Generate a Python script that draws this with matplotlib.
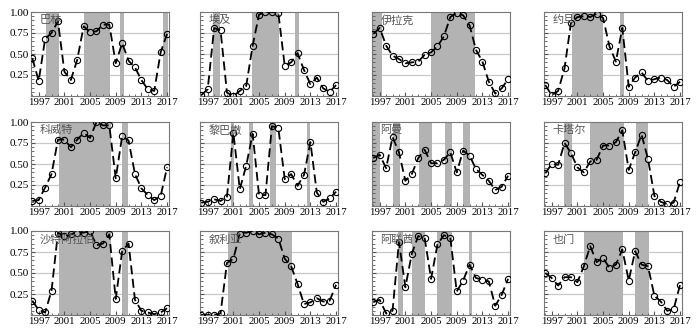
import numpy as np
import matplotlib
matplotlib.use('Agg')
import matplotlib.pyplot as plt
from matplotlib.ticker import MultipleLocator

years = list(range(1996, 2018))

paises = ['巴林', '埃及', '伊拉克', '约旦',
          '科威特', '黎巴嫩', '阿曼', '卡塔尔',
          '沙特阿拉伯', '叙利亚', '阿联酋', '也门']

bahrein = [0.45, 0.18, 0.68, 0.75, 0.89, 0.29, 0.19, 0.43, 0.83, 0.76, 0.77,
           0.85, 0.85, 0.39, 0.63, 0.42, 0.34, 0.19, 0.08, 0.06, 0.52, 0.74]
egipto = [0.01, 0.08, 0.81, 0.78, 0.04, 0.00, 0.06, 0.12, 0.60, 0.97, 1.00,
          1.00, 0.99, 0.36, 0.40, 0.51, 0.31, 0.14, 0.22, 0.09, 0.05, 0.13]
irak = [0.74, 0.81, 0.60, 0.48, 0.44, 0.39, 0.40, 0.41, 0.49, 0.52, 0.59,
        0.71, 0.94, 0.99, 0.96, 0.84, 0.55, 0.41, 0.17, 0.03, 0.09, 0.20]
jordania = [0.13, 0.01, 0.06, 0.33, 0.87, 0.94, 0.95, 0.94, 0.98, 0.93, 0.59,
            0.41, 0.81, 0.11, 0.22, 0.28, 0.18, 0.20, 0.22, 0.19, 0.11, 0.17]
kuwait = [0.06, 0.07, 0.22, 0.38, 0.79, 0.79, 0.70, 0.79, 0.87, 0.81, 1.00,
          0.96, 0.96, 0.33, 0.83, 0.78, 0.38, 0.21, 0.13, 0.07, 0.12, 0.46]
libano = [0.04, 0.05, 0.08, 0.06, 0.11, 0.87, 0.20, 0.48, 0.86, 0.13, 0.13,
          0.95, 0.93, 0.32, 0.38, 0.24, 0.37, 0.76, 0.16, 0.05, 0.09, 0.17]
oman = [0.57, 0.61, 0.45, 0.82, 0.64, 0.30, 0.38, 0.57, 0.67, 0.51, 0.51,
        0.55, 0.64, 0.40, 0.66, 0.60, 0.44, 0.37, 0.30, 0.19, 0.23, 0.36]
qatar = [0.39, 0.50, 0.49, 0.75, 0.63, 0.46, 0.40, 0.53, 0.55, 0.72, 0.72,
         0.76, 0.90, 0.43, 0.64, 0.85, 0.56, 0.12, 0.05, 0.02, 0.04, 0.29]
saudi = [0.17, 0.06, 0.03, 0.29, 0.98, 0.94, 0.96, 0.98, 0.98, 1.00, 0.83,
         0.85, 0.96, 0.19, 0.76, 0.85, 0.18, 0.05, 0.03, 0.01, 0.03, 0.08]
siria = [0.00, 0.00, 0.00, 0.02, 0.62, 0.67, 0.97, 0.98, 1.00, 0.96, 0.98,
         0.96, 0.91, 0.67, 0.58, 0.37, 0.13, 0.15, 0.20, 0.16, 0.17, 0.36]
emiratos = [0.16, 0.18, 0.02, 0.05, 0.87, 0.33, 0.73, 0.94, 0.92, 0.43, 0.84,
            0.95, 0.92, 0.28, 0.41, 0.60, 0.44, 0.42, 0.40, 0.11, 0.24, 0.43]
yemen = [0.50, 0.44, 0.35, 0.45, 0.45, 0.39, 0.58, 0.82, 0.63, 0.68, 0.56,
         0.60, 0.78, 0.41, 0.76, 0.60, 0.58, 0.23, 0.16, 0.05, 0.07, 0.36]

series = [bahrein, egipto, irak, jordania, kuwait, libano,
          oman, qatar, saudi, siria, emiratos, yemen]

# periodos sombreados (inicio, fin) en años
sombras = [
    [(1998.1, 2000.1), (2004.0, 2008.1), (2009.7, 2010.3), (2016.4, 2017.2)],
    [(1997.9, 1998.9), (2003.9, 2008.05), (2010.6, 2011.2)],
    [(1995.8, 1997.3), (2005.0, 2011.8)],
    [(2000.1, 2005.0), (2007.6, 2008.2)],
    [(2000.1, 2008.2), (2010.0, 2010.9)],
    [(2000.6, 2001.1), (2003.5, 2004.0), (2006.7, 2007.7), (2012.5, 2013.0)],
    [(1995.8, 1997.0), (1999.1, 2000.2), (2003.2, 2005.1), (2007.1, 2008.2), (2010.0, 2011.0)],
    [(1998.9, 2000.1), (2003.0, 2008.2), (2010.2, 2012.0)],
    [(2000.1, 2008.2), (2010.0, 2010.9)],
    [(2000.2, 2010.1)],
    [(1999.9, 2000.6), (2002.1, 2004.1), (2006.0, 2008.2), (2010.9, 2011.4)],
    [(2002.0, 2008.1), (2010.0, 2012.2)],
]

plt.rcParams['font.family'] = ['Liberation Serif', 'DejaVu Serif']

fig = plt.figure(figsize=(7, 3.36), dpi=100)
izq = [31, 200, 372, 544]
arriba = [12, 122, 231]
ancho = 138
alto = 84

for i in range(12):
    fila = i // 4
    col = i % 4
    ax = fig.add_axes([izq[col] / 700, 1 - (arriba[fila] + alto) / 336, ancho / 700, alto / 336])
    for a, b in sombras[i]:
        ax.axvspan(a, b, color='#b3b3b3', lw=0, zorder=1)
    for yg in [0.25, 0.5, 0.75]:
        ax.axhline(yg, color='#c8c8c8', lw=0.9, zorder=0.5)
    ax.plot(years, series[i], color='black', ls=(0, (5, 2.5)), lw=1.3,
            marker='o', ms=4.5, mfc='none', mec='black', mew=0.8, zorder=3)
    ax.set_xlim(1995.8, 2017.3)
    ax.set_ylim(0, 1.0)
    ax.set_xticks([1997, 2001, 2005, 2009, 2013, 2017])
    ax.xaxis.set_minor_locator(MultipleLocator(1))
    ax.set_yticks([0.25, 0.5, 0.75, 1.0])
    ax.yaxis.set_minor_locator(MultipleLocator(0.05))
    ax.tick_params(which='both', direction='in', color='#555555', pad=1.5)
    ax.tick_params(axis='x', labelsize=7.8)
    ax.tick_params(axis='y', labelsize=8)
    ax.tick_params(which='major', length=3)
    ax.tick_params(which='minor', length=1.8)
    ax.tick_params(axis='x', which='both', top=False)
    ax.tick_params(axis='y', which='both', right=False)
    if col == 0:
        ax.set_yticklabels(['0.25', '0.50', '0.75', '1.00'])
    else:
        ax.set_yticklabels([])
    for s in ax.spines.values():
        s.set_color('#777777')
        s.set_linewidth(0.8)
    ax.text(0.06, 0.96, paises[i], transform=ax.transAxes, ha='left', va='top',
            fontsize=8, color='#555555', family=['Noto Sans CJK SC', 'DejaVu Sans'], zorder=4)

plt.savefig('out.png', dpi=100)
